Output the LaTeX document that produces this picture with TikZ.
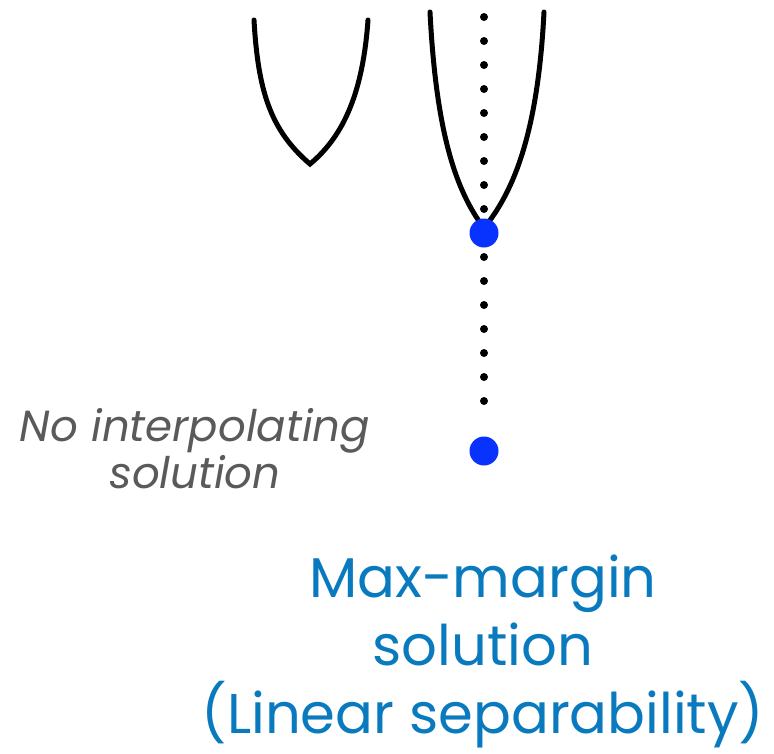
\documentclass[tikz,border=0pt]{standalone}
\usepackage{fontspec}
\setmainfont{Poppins}
\definecolor{dotblue}{RGB}{8,51,255}
\definecolor{txtblue}{RGB}{10,122,190}
\definecolor{txtgray}{RGB}{90,90,90}
\tikzset{
  curve/.style={line width=5pt, line cap=round},
  bluedot/.style={circle, fill=dotblue, inner sep=0pt, minimum size=29pt},
  dotline/.style={line width=8pt, line cap=round, dash pattern=on 0pt off 24pt},
  graytext/.style={text=txtgray, font=\fontsize{43.5}{47}\selectfont\itshape, align=center, inner sep=0pt},
  bluetext/.style={text=txtblue, font=\fontsize{56}{68}\selectfont, align=center, inner sep=0pt}
}
\begin{document}
\begin{tikzpicture}[x=1pt,y=-1pt]
\useasboundingbox (0,0) rectangle (774,753);
% left curve
\coordinate (la) at (254,20);
\coordinate (lv) at (310,164);
\coordinate (lb) at (368,20);
\draw[curve] (la) .. controls (258,90) and (270,130) .. (lv)
             .. controls (345,135) and (363,90) .. (lb);
% right curve
\coordinate (ra) at (430,12);
\coordinate (rv) at (484,228);
\coordinate (rb) at (544,12);
\draw[curve] (ra) .. controls (436,130) and (455,190) .. (rv)
             .. controls (515,190) and (538,130) .. (rb);
% dotted line
\coordinate (dtop) at (484,17);
\coordinate (dbot) at (484,401);
\draw[dotline] (dtop) -- (dbot);
% blue dots
\node[bluedot] (p1) at (484,233) {};
\node[bluedot] (p2) at (484,451) {};
% texts
\node[graytext, anchor=base] (nointerp) at (195,488) {No interpolating\\solution};
\node[bluetext, anchor=base] (maxm) at (483,733) {Max-margin\\solution\\(Linear separability)};
\end{tikzpicture}
\end{document}
